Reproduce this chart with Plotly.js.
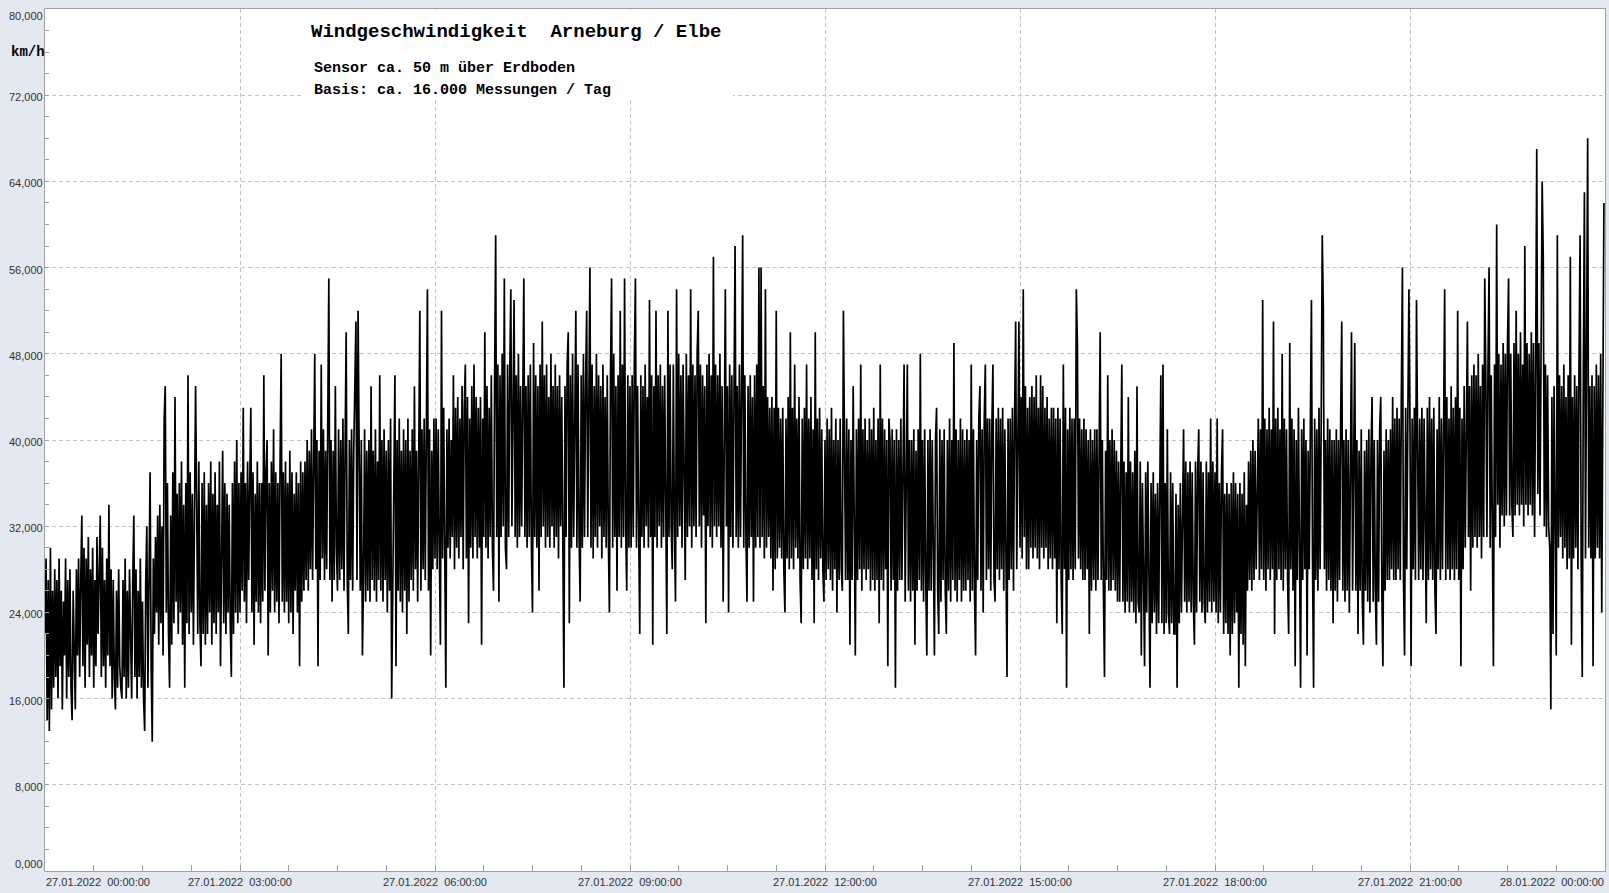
<!DOCTYPE html>
<html><head><meta charset="utf-8">
<script src="https://cdn.plot.ly/plotly-3.0.1.min.js"></script>
<style>html,body{margin:0;padding:0;background:#e4e8f0;}#chart{width:1609px;height:893px;}</style>
</head><body><div id="chart"></div>
<script>
// Wind speed (km/h), one value per minute
const speed_00_03 = [
22,29,14,27,13,30,15,26,17,28,
18,27,16,29,19,26,15,25,20,29,
16,27,18,28,17,14,26,19,15,28,
20,29,18,27,33,19,30,17,29,21,
31,18,28,20,30,17,27,19,31,22,
28,33,18,30,19,27,17,29,20,34,
19,28,16,27,18,15,26,17,28,19,
17,16,27,18,29,16,26,17,28,20,
16,27,33,18,28,16,26,18,29,17,
25,16,13,27,32,17,26,37,19,12,
29,22,31,24,33,21,34,23,32,20,
42,45,24,36,22,17,33,21,37,23,
44,25,35,22,36,24,38,21,34,17,
36,23,46,22,37,24,35,21,33,45,
34,22,38,23,19,36,22,37,21,34,
22,36,24,38,21,35,23,37,22,34,
24,38,19,33,39,23,36,22,35,24,
34,23,18,36,22,38,24,40,23,36];
const speed_03_06 = [
24,37,26,43,25,36,23,38,27,36,
43,24,37,21,35,25,38,24,36,23,
36,25,46,26,37,40,20,36,24,38,
26,41,24,37,25,36,23,38,48,25,
37,24,38,25,36,23,39,24,37,22,
35,26,37,24,36,19,38,25,37,26,
38,27,40,26,39,28,41,27,38,48,
28,40,19,39,27,47,29,41,27,39,
28,48,55,27,40,25,39,27,45,30,
26,41,27,40,28,42,26,39,50,27,
22,40,27,41,26,39,48,51,27,52,
39,26,40,20,27,41,25,39,26,40,
25,45,27,39,26,41,25,38,27,46,
26,40,25,41,27,39,24,40,26,42,
16,28,41,46,19,40,26,42,25,39,
24,41,26,40,22,42,25,39,27,41,
26,45,28,39,25,42,52,26,41,28,
42,27,40,54,26,41,20,39,28,42];
const speed_06_09 = [
29,42,28,41,30,21,52,29,43,28,
17,41,30,42,29,40,31,46,28,43,
30,44,29,42,31,45,28,43,47,29,
44,23,42,30,45,29,47,31,44,29,
43,30,44,21,42,31,50,30,45,29,
43,31,46,30,26,45,59,31,47,25,
46,31,48,32,55,30,28,47,31,46,
54,32,47,53,31,46,30,48,31,45,
32,47,55,31,45,30,46,31,47,30,
24,49,31,46,30,45,26,47,31,51,
32,46,30,47,31,44,30,48,32,45,
30,47,31,45,29,46,32,44,30,17,
45,31,47,50,23,46,30,48,31,44,
52,30,47,31,25,46,30,48,31,45,
52,31,46,56,30,47,29,45,31,48,
30,46,32,45,29,47,31,44,30,46,
31,24,46,55,30,48,31,45,26,46,
31,52,30,47,31,55,32,26,46,30];
const speed_09_12 = [
45,30,46,31,47,55,30,45,32,22,
46,31,45,30,47,32,44,30,53,31,
46,21,45,31,52,30,46,32,47,30,
45,31,46,30,22,52,31,47,32,28,
47,32,25,54,31,48,32,46,30,47,
32,27,48,31,46,32,54,30,47,32,
46,31,48,52,32,47,30,46,33,45,
23,47,32,48,31,46,30,57,32,47,
31,46,32,48,30,45,25,46,54,32,
45,24,47,31,46,30,48,58,31,45,
30,47,31,45,59,30,46,31,25,45,
30,46,31,44,25,46,30,47,31,56,
30,56,31,45,29,54,30,44,31,43,
29,44,26,43,28,52,29,43,30,42,
29,43,28,24,42,29,44,28,50,29,
43,28,47,30,42,29,44,27,23,42,
28,43,29,47,28,42,29,44,27,41,
23,50,28,42,27,43,29,41,28,25];
const speed_12_15 = [
40,27,42,28,41,27,43,26,40,28,
42,24,40,27,42,28,26,52,41,27,
42,27,41,21,40,27,45,28,20,41,
27,42,28,47,26,41,28,42,27,40,
28,42,26,41,27,43,26,40,27,42,
23,47,27,42,26,41,28,40,19,42,
40,26,41,27,40,17,41,26,40,27,
42,27,40,47,25,41,47,26,40,25,
40,26,41,21,39,26,41,27,48,26,
40,25,41,27,20,40,26,41,26,40,
25,20,40,43,26,22,41,25,40,27,
41,26,22,40,26,42,25,40,27,49,
26,41,25,40,27,42,25,41,26,40,
26,41,27,40,25,47,26,41,26,20,
40,27,42,45,26,41,24,42,47,27,
42,28,42,26,41,47,27,25,42,28,
43,27,42,28,43,26,41,27,18,42,
27,42,28,43,26,42,51,28,43,51];
const speed_15_18 = [
30,44,29,54,31,45,28,43,28,44,
30,45,29,44,30,46,29,43,28,46,
30,45,29,43,30,44,28,42,29,43,
28,43,29,42,23,43,28,42,27,22,
47,28,43,17,41,27,43,28,42,27,
42,28,54,49,29,42,28,41,27,42,
27,41,28,40,22,41,26,40,27,41,
26,41,27,40,50,27,40,26,18,39,
27,46,26,40,26,41,27,40,26,39,
25,38,25,37,47,25,38,24,37,25,
44,24,38,25,37,24,39,23,45,25,
24,38,20,36,23,19,37,24,38,23,
17,36,23,37,24,35,22,36,23,35,
46,23,47,22,36,23,41,24,22,37,
23,36,22,22,35,17,34,23,36,24,
36,41,25,38,24,37,25,38,24,37,
25,21,38,24,37,41,25,38,24,37,
25,23,38,24,37,25,42,24,38,25];
const speed_18_21 = [
37,24,42,23,36,24,37,41,22,35,
23,36,22,35,20,36,22,37,23,36,
24,35,17,36,22,35,21,37,19,34,
26,38,27,39,26,40,27,39,28,38,
42,27,41,28,53,27,42,26,41,28,
43,27,41,28,51,22,42,27,43,28,
41,27,48,26,42,28,41,27,22,49,
28,42,26,41,19,40,27,43,26,17,
41,27,42,28,40,20,39,28,41,53,
29,17,42,27,41,26,43,28,41,59,
52,28,40,26,42,27,41,26,40,23,
40,26,41,25,40,27,42,51,26,40,
25,41,26,40,24,41,50,26,40,49,
26,40,22,39,26,41,25,21,39,26,
40,25,41,24,39,44,25,40,26,21,
40,25,41,44,26,19,39,26,41,27,
40,27,41,28,44,27,42,27,43,28,
42,27,44,56,27,20,43,28,42,54];
const speed_21_24 = [
41,19,42,28,43,27,53,41,27,42,
28,43,27,42,28,23,43,27,44,28,
42,27,43,26,22,41,28,44,27,42,
28,43,54,27,44,28,42,27,45,28,
43,27,44,28,52,27,43,19,42,28,
45,30,44,51,31,45,26,46,30,47,
31,46,30,48,31,45,29,47,31,55,
46,31,47,56,30,46,32,19,47,31,
60,34,48,30,47,33,49,32,48,33,
49,55,33,48,34,31,49,33,52,34,
48,33,50,34,47,32,58,34,49,33,
48,34,50,33,49,31,47,67,35,49,
33,48,64,57,32,47,31,46,32,30,
15,44,22,45,30,20,59,30,46,31,
45,29,47,30,44,28,46,29,57,21,
44,29,46,30,45,28,47,59,29,18,
46,63,29,47,68,30,45,29,46,19,
45,29,47,30,46,29,48,24,44,62];

const speedBlocks = [speed_00_03, speed_03_06, speed_06_09, speed_09_12, speed_12_15, speed_15_18, speed_18_21, speed_21_24];
const blockStartHours = [0, 3, 6, 9, 12, 15, 18, 21];

const tickTimes = ['2022-01-27 00:00:00','2022-01-27 03:00:00','2022-01-27 06:00:00','2022-01-27 09:00:00','2022-01-27 12:00:00','2022-01-27 15:00:00','2022-01-27 18:00:00','2022-01-27 21:00:00','2022-01-28 00:00:00'];
const tickLabels = ['27.01.2022\u00a0 00:00:00','27.01.2022\u00a0 03:00:00','27.01.2022\u00a0 06:00:00','27.01.2022\u00a0 09:00:00','27.01.2022\u00a0 12:00:00','27.01.2022\u00a0 15:00:00','27.01.2022\u00a0 18:00:00','27.01.2022\u00a0 21:00:00','28.01.2022\u00a0 00:00:00'];
const yTickValues = [0, 8, 16, 24, 32, 40, 48, 56, 64, 72, 80];
const yTickLabels = ['0,000','8,000','16,000','24,000','32,000','40,000','48,000','56,000','64,000','72,000','80,000'];

const titleText = 'Windgeschwindigkeit\u00a0 Arneburg / Elbe';
const subText1 = 'Sensor ca. 50 m über Erdboden';
const subText2 = 'Basis: ca. 16.000 Messungen / Tag';
const unitText = 'km/h';

// build series
const base = Date.UTC(2022, 0, 27);
const xs = [], ys = [];
speedBlocks.forEach((blk, b) => {
  blk.forEach((v, i) => {
    xs.push(base + (blockStartHours[b] * 60 + i) * 60000);
    ys.push(v);
  });
});

const tickFont = {family: 'Liberation Sans, Arial, sans-serif', size: 11, color: '#333'};
const annotations = [];
tickTimes.forEach((t, i) => {
  const first = i === 0, last = i === tickTimes.length - 1;
  annotations.push({
    xref: first || last ? 'paper' : 'x', x: first ? 0 : (last ? 1 : t),
    yref: 'paper', y: -0.0128, yanchor: 'middle',
    xanchor: first ? 'left' : (last ? 'right' : 'center'),
    text: tickLabels[i], showarrow: false, font: tickFont, borderpad: 0
  });
});
yTickValues.forEach((v, i) => {
  const first = i === 0, last = i === yTickValues.length - 1;
  annotations.push({
    xref: 'paper', x: 0, xanchor: 'right', xshift: -1,
    yref: 'y', y: v, yanchor: first ? 'bottom' : (last ? 'top' : 'middle'),
    yshift: first || last ? 0 : -2,
    text: yTickLabels[i], showarrow: false, font: tickFont, borderpad: 0
  });
});
annotations.push({xref: 'paper', x: 0, xanchor: 'right', xshift: 1, yref: 'y', y: 76, yanchor: 'middle',
  text: '<b>' + unitText + '</b>', showarrow: false, borderpad: 0,
  font: {family: 'Liberation Mono, Courier New, monospace', size: 14, color: '#000'}});
annotations.push({xref: 'paper', x: 0.1699, xanchor: 'left', yref: 'paper', y: 0.9733, yanchor: 'middle',
  text: '<b>' + titleText + '</b>', showarrow: false, borderpad: 0,
  font: {family: 'Liberation Mono, Courier New, monospace', size: 19, color: '#000'}});
annotations.push({xref: 'paper', x: 0.1718, xanchor: 'left', yref: 'paper', y: 0.9304, yanchor: 'middle',
  text: '<b>' + subText1 + '</b>', showarrow: false, borderpad: 0,
  font: {family: 'Liberation Mono, Courier New, monospace', size: 15, color: '#000'}});
annotations.push({xref: 'paper', x: 0.1718, xanchor: 'left', yref: 'paper', y: 0.906, yanchor: 'middle',
  text: '<b>' + subText2 + '</b>', showarrow: false, borderpad: 0,
  font: {family: 'Liberation Mono, Courier New, monospace', size: 15, color: '#000'}});

const axisLine = '#a0a0a0';
const layout = {
  width: 1609, height: 893,
  margin: {l: 45, r: 4, t: 9, b: 22, pad: 0},
  paper_bgcolor: '#e4e8f0', plot_bgcolor: '#ffffff',
  showlegend: false,
  xaxis: {
    type: 'date', range: ['2022-01-27 00:00:00', '2022-01-28 00:00:00'],
    tick0: '2022-01-27 00:00:00', dtick: 10800000,
    showticklabels: false, ticks: 'inside', ticklen: 6, tickcolor: axisLine,
    showgrid: true, gridcolor: '#c4c4c4', griddash: '4px,3px', gridwidth: 1,
    showline: true, linecolor: axisLine, linewidth: 1, mirror: true, zeroline: false,
    minor: {dtick: 2700000, ticks: 'inside', ticklen: 6, tickcolor: axisLine, showgrid: false}
  },
  yaxis: {
    range: [0, 80], tick0: 0, dtick: 8,
    showticklabels: false, ticks: 'inside', ticklen: 4, tickcolor: axisLine,
    showgrid: true, gridcolor: '#c4c4c4', griddash: '4px,3px', gridwidth: 1,
    showline: true, linecolor: axisLine, linewidth: 1, mirror: true, zeroline: false,
    minor: {dtick: 2, ticks: 'inside', ticklen: 4, tickcolor: axisLine, showgrid: false}
  },
  shapes: [{type: 'rect', xref: 'paper', yref: 'y', x0: 0.1654, x1: 0.441, y0: 71.6, y1: 79.9,
    fillcolor: '#ffffff', line: {width: 0}, layer: 'above'}],
  annotations: annotations
};

Plotly.newPlot('chart', [{
  type: 'scatter', mode: 'lines', x: xs, y: ys,
  line: {color: '#000000', width: 1.7}, hoverinfo: 'skip'
}], layout, {staticPlot: true, displayModeBar: false});
</script></body></html>
